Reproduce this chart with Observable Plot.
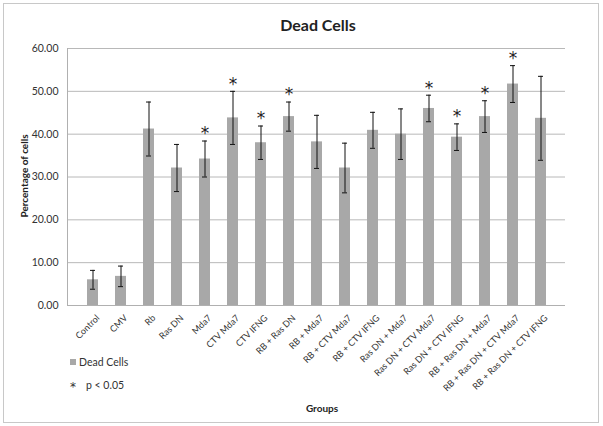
<!DOCTYPE html>
<html><head><meta charset="utf-8">
<script src="https://cdn.jsdelivr.net/npm/d3@7"></script>
<script src="https://cdn.jsdelivr.net/npm/@observablehq/plot@0.6"></script>
<style>body{margin:0;background:#fff;font-family:Lato,"Open Sans",sans-serif}</style>
</head><body><div id="chart"></div>
<script>
const categories = ["Control","CMV","Rb","Ras DN","Mda7","CTV Mda7","CTV IFNG","RB + Ras DN","RB + Mda7","RB + CTV Mda7","RB + CTV IFNG","Ras DN + Mda7","Ras DN + CTV Mda7","Ras DN + CTV IFNG","RB + Ras DN + Mda7","RB + Ras DN + CTV Mda7","RB + Ras DN + CTV IFNG"];
const values = [6.0,6.8,41.2,32.1,34.2,43.8,38.0,44.1,38.2,32.1,40.9,40.0,46.0,39.3,44.1,51.7,43.7];
const errors = [2.2,2.4,6.3,5.5,4.2,6.2,3.9,3.4,6.2,5.8,4.2,5.9,3.1,3.1,3.7,4.3,9.8];
const significant = [false,false,false,false,true,true,true,true,false,false,false,false,true,true,true,true,false];
const yTicks = [0,10,20,30,40,50,60];

const data = categories.map((c,i)=>({c, v:values[i], e:errors[i], s:significant[i]}));

const mL = 67, mT = 48, mB = 121, mR = 38, W = 603, H = 426;

const plot = Plot.plot({
  width: W, height: H,
  marginTop: mT, marginBottom: mB, marginLeft: mL, marginRight: mR,
  style: {fontFamily: "Lato, 'Open Sans', sans-serif", fontSize: "10px", color: "#222", background: "transparent"},
  x: {domain: categories, padding: 0.62, label: null},
  y: {domain: [0,60], label: null},
  marks: [
    Plot.gridY(yTicks, {stroke: "#b8b8b8", strokeOpacity: 1}),
    Plot.barY(data, {x: "c", y: "v", fill: "#a8a8a8"}),
    Plot.ruleY([0], {stroke: "#b0b0b0"}),
    Plot.ruleX(data, {x: "c", y1: d=>d.v-d.e, y2: d=>d.v+d.e, stroke: "#111", strokeWidth: 1}),
    Plot.tickY(data, {x: "c", y: d=>d.v+d.e, stroke: "#111", strokeWidth: 1, inset: 3}),
    Plot.tickY(data, {x: "c", y: d=>d.v-d.e, stroke: "#111", strokeWidth: 1, inset: 3}),
    Plot.text(data.filter(d=>d.s), {x: "c", y: d=>d.v+d.e, text: ()=>"*", dy: -7, fontSize: 17, fontFamily: "DejaVu Sans", fill: "#222", lineAnchor: "middle"}),
    Plot.axisY(yTicks, {tickFormat: d3.format(".2f"), tickSize: 0, tickPadding: 9, fontSize: 10.5, fill: "#333", label: null}),
    Plot.axisX({tickRotate: -45, tickSize: 0, tickPadding: 11, fontSize: 9, fill: "#333", label: null, dx: 5})
  ]
});

const svg = d3.select(plot);
svg.insert("rect", ":first-child").attr("x",3.5).attr("y",3.5).attr("width",595).attr("height",419)
  .attr("fill","#fff").attr("stroke","#c8c8c8");
svg.append("line").attr("x1",mL+0.5).attr("x2",mL+0.5).attr("y1",mT).attr("y2",H-mB).attr("stroke","#b0b0b0");
svg.append("text").attr("x",318).attr("y",31).attr("text-anchor","middle")
  .attr("font-weight","bold").attr("font-size",16).attr("fill","#222").text("Dead Cells");
svg.append("text").attr("transform","translate(28,176) rotate(-90)").attr("text-anchor","middle")
  .attr("font-weight","bold").attr("font-size",10).attr("fill","#222").text("Percentage of cells");
svg.append("rect").attr("x",70).attr("y",359).attr("width",6).attr("height",6).attr("fill","#a8a8a8");
svg.append("text").attr("x",79).attr("y",366).attr("text-anchor","start").attr("font-size",10.5).attr("fill","#333").text("Dead Cells");
svg.append("text").attr("x",70).attr("y",391).attr("text-anchor","start").attr("font-family","DejaVu Sans").attr("font-size",12).attr("fill","#333").text("*");
svg.append("text").attr("x",86).attr("y",389).attr("text-anchor","start").attr("font-size",10.5).attr("fill","#333").text("p < 0.05");
svg.append("text").attr("x",322).attr("y",412).attr("text-anchor","middle")
  .attr("font-weight","bold").attr("font-size",10).attr("fill","#222").text("Groups");

document.getElementById("chart").appendChild(plot);
</script>
</body></html>
